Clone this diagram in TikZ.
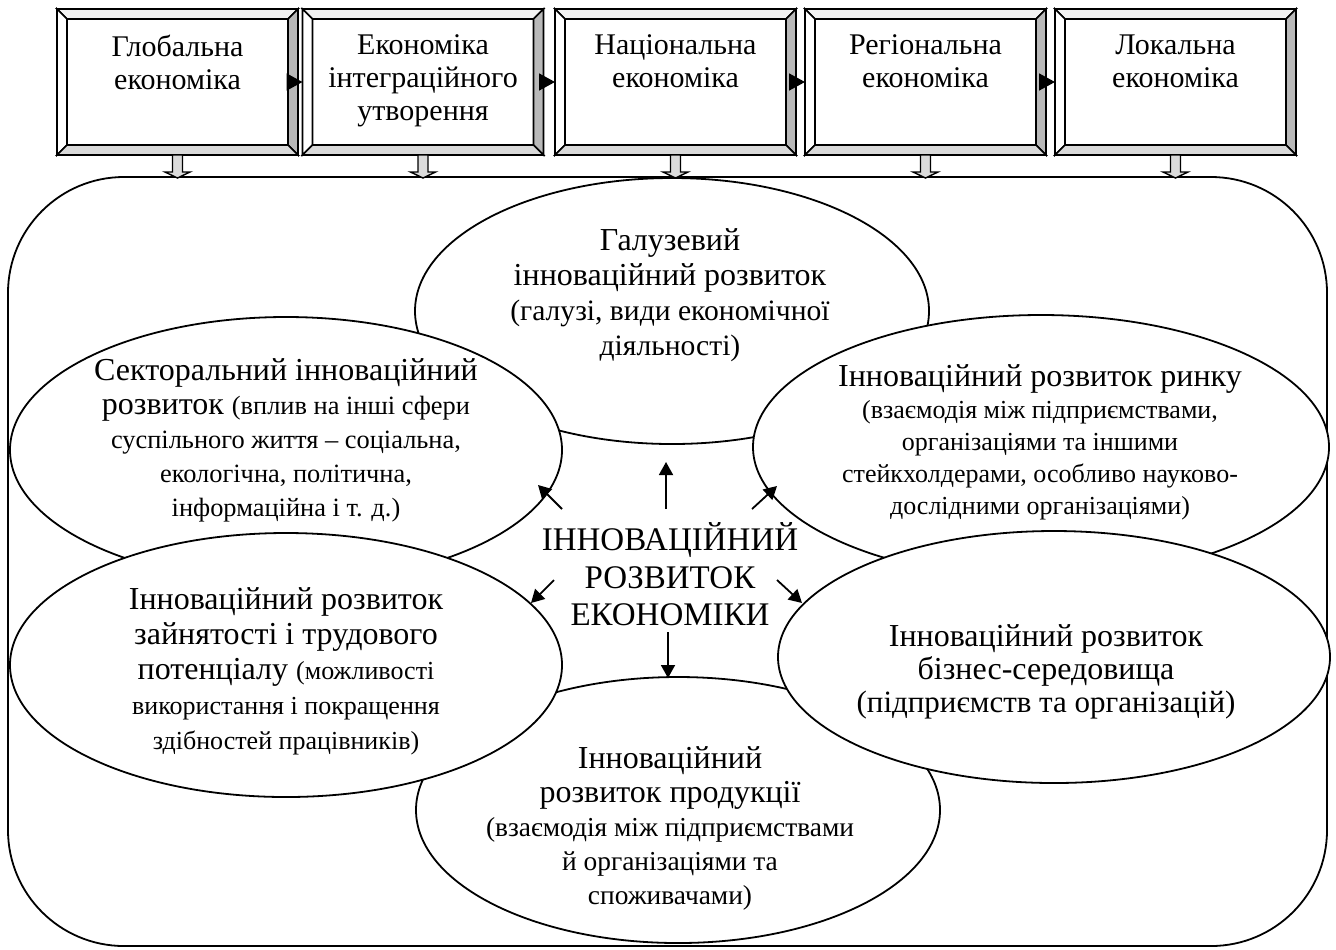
\documentclass[tikz,border=0pt]{standalone}
\usepackage{fontspec}
\setmainfont{Liberation Serif}
\usepackage{tikz}
\usetikzlibrary{calc,positioning,shapes.geometric,arrows.meta}

\newcommand{\fs}[2]{\fontsize{#1}{#2}\selectfont}

\begin{document}
\begin{tikzpicture}[x=0.5pt,y=-0.5pt,inner sep=0pt,outer sep=0pt,
    levelbox/.style={minimum width=120.5pt,minimum height=73pt},
    boxtxt/.style={align=center,font={\fs{15}{16.5}}},
    bevel/.style={draw,line width=0.8pt},
    oval/.style={ellipse,draw,fill=white,line width=0.9pt},
    txt/.style={align=center},
    arr/.style={line width=0.9pt,-{Triangle[length=6.5pt,width=7pt]}},
    harr/.style={line width=0.8pt,-{Triangle[length=8pt,width=8.5pt]}},
    downarr/.style={draw,fill=gray!28,line width=0.7pt}]

\useasboundingbox (0,0) rectangle (1336,949);

% outer frame
\node[draw,line width=0.9pt,rounded corners=58pt,minimum width=659.5pt,minimum height=384.5pt] (frame) at (667.5,561.5) {};

% levels of the economy
\node[levelbox] (b1) at (177.5,82) {};
\node[levelbox] (b2) at (423,82) {};
\node[levelbox] (b3) at (675.5,82) {};
\node[levelbox] (b4) at (925.5,82) {};
\node[levelbox] (b5) at (1175.5,82) {};

\foreach \i in {1,...,5}{
  \filldraw[bevel,fill=gray!10] (b\i.north west) -- (b\i.north east) -- ($(b\i.north east)+(-10,10)$) -- ($(b\i.north west)+(10,10)$) -- cycle;
  \filldraw[bevel,fill=white] (b\i.north west) -- ($(b\i.north west)+(10,10)$) -- ($(b\i.south west)+(10,-10)$) -- (b\i.south west) -- cycle;
  \filldraw[bevel,fill=gray!55] (b\i.north east) -- (b\i.south east) -- ($(b\i.south east)+(-10,-10)$) -- ($(b\i.north east)+(-10,10)$) -- cycle;
  \filldraw[bevel,fill=gray!30] (b\i.south west) -- (b\i.south east) -- ($(b\i.south east)+(-10,-10)$) -- ($(b\i.south west)+(10,-10)$) -- cycle;
  \filldraw[downarr] ($(b\i.south)+(-5,0)$) -- ($(b\i.south)+(-5,17)$) -- ($(b\i.south)+(-12.5,17)$) -- ($(b\i.south)+(0,23)$)
     -- ($(b\i.south)+(12.5,17)$) -- ($(b\i.south)+(5,17)$) -- ($(b\i.south)+(5,0)$) -- cycle;
}

\node[boxtxt,below=13pt of b1.north] (t1) {Глобальна\\економіка};
\node[boxtxt,below=13pt of b2.north] (t2) {Економіка\\інтеграційного\\утворення};
\node[boxtxt,below=13pt of b3.north] (t3) {Національна\\економіка};
\node[boxtxt,below=13pt of b4.north] (t4) {Регіональна\\економіка};
\node[boxtxt,below=13pt of b5.north] (t5) {Локальна\\економіка};

\foreach \i/\j in {1/2,2/3,3/4,4/5}
  \draw[harr] (b\i.east) -- (b\j.west);

% directions of innovative development
\node[oval,minimum width=257pt,minimum height=133pt] (galuz) at (672,311) {};
\node[oval,minimum width=262pt,minimum height=133pt] (produkt) at (678,810) {};
\node[oval,minimum width=276pt,minimum height=133pt] (sekt) at (286,450) {};
\node[oval,minimum width=288pt,minimum height=132pt] (rynok) at (1041,447) {};
\node[oval,minimum width=276pt,minimum height=132pt] (zayn) at (286,665) {};
\node[oval,minimum width=276pt,minimum height=126pt] (biznes) at (1054,657) {};

\node[txt,font={\fs{16}{17.5}}] (galuzT) at (670,295) {Галузевий\\інноваційний розвиток\\\fs{14.8}{17.5}(галузі, види економічної\\\fs{14.8}{17.5}діяльності)};
\node[txt,font={\fs{16}{17}}] (sektT) at (286,440) {Секторальний інноваційний\\розвиток \fs{13.2}{17}(вплив на інші сфери\\\fs{13.2}{17}суспільного життя – соціальна,\\\fs{13.2}{17}екологічна, політична,\\\fs{13.2}{17}інформаційна і т. д.)};
\node[txt,font={\fs{16}{16}}] (rynokT) at (1040,442) {Інноваційний розвиток ринку\\\fs{13}{16}(взаємодія між підприємствами,\\\fs{13}{15}організаціями та іншими\\\fs{13}{15}стейкхолдерами, особливо науково-\\\fs{13}{15}дослідними організаціями)};
\node[txt,font={\fs{16}{17.5}}] (zaynT) at (286,671) {Інноваційний розвиток\\зайнятості і трудового\\\fs{16}{16.5}потенціалу \fs{13}{16.5}(можливості\\\fs{13}{16.5}використання і покращення\\\fs{13}{16}здібностей працівників)};
\node[txt,font={\fs{16}{16.5}}] (biznesT) at (1046,672) {Інноваційний розвиток\\бізнес-середовища\\\fs{15.5}{17.5}(підприємств та організацій)};
\node[txt,font={\fs{16}{17}}] (produktT) at (670,828) {Інноваційний\\розвиток продукції\\\fs{13.7}{17}(взаємодія між підприємствами\\\fs{13.7}{16}й організаціями та\\\fs{13.7}{15.5}споживачами)};

% core
\node[txt,font={\fs{16.5}{18.75}}] (core) at (670,574.5) {ІННОВАЦІЙНИЙ\\РОЗВИТОК\\ЕКОНОМІКИ};

\coordinate (up0) at (666,509);  \coordinate (up1) at (666,462);
\coordinate (ul0) at (562,509);  \coordinate (ul1) at (538,485);
\coordinate (ur0) at (752,509);  \coordinate (ur1) at (777,486);
\coordinate (ll0) at (554,580);  \coordinate (ll1) at (531,603);
\coordinate (lr0) at (777,580);  \coordinate (lr1) at (802,603);
\coordinate (dn0) at (668,632);  \coordinate (dn1) at (668,678);
\foreach \a in {up,ul,ur,ll,lr,dn}
  \draw[arr] (\a0) -- (\a1);

\end{tikzpicture}
\end{document}
